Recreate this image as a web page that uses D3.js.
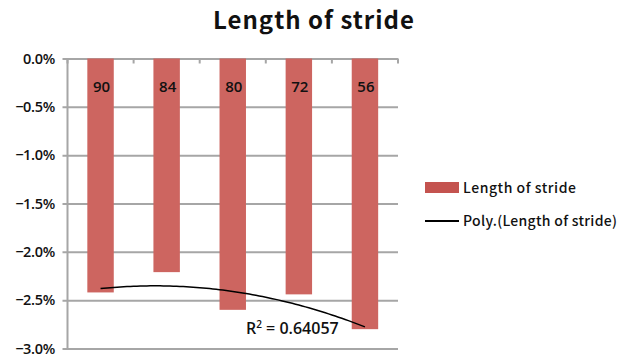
<!DOCTYPE html>
<html>
<head>
<meta charset="utf-8">
<script src="https://cdn.jsdelivr.net/npm/d3@7"></script>
<style>
  html, body { margin: 0; padding: 0; background: #fff; }
  svg { display: block; }
</style>
</head>
<body>
<svg id="chart" width="621" height="364"></svg>
<script>
// Stride length per group (category label) and its change
const categories = ["90", "84", "80", "72", "56"];
const strideChange = [-0.0242, -0.0221, -0.0260, -0.0244, -0.0280];
const yTicks = [0, -0.005, -0.01, -0.015, -0.02, -0.025, -0.03];
const seriesName = "Length of stride";
const trendName = "Poly.(Length of stride)";
const rSquaredLabel = "0.64057";

const svg = d3.select("#chart");
const gothic = "'Noto Sans CJK JP', 'DejaVu Sans', sans-serif";
const sans = "'Open Sans', 'Noto Sans', sans-serif";
const barColor = "#CD6560";
const gridColor = "#A6A6A6";

const plot = { left: 67.5, right: 398, top: 58.5, bottom: 348.5 };

const x = d3.scaleBand()
  .domain(categories)
  .range([plot.left, plot.right])
  .paddingInner(0.6)
  .paddingOuter(0.3);

const y = d3.scaleLinear()
  .domain([-0.03, 0])
  .range([plot.bottom, plot.top]);

// Title
svg.append("text")
  .attr("x", 314)
  .attr("y", 29)
  .attr("text-anchor", "middle")
  .attr("font-family", gothic)
  .attr("font-weight", "bold")
  .attr("font-size", 24)
  .attr("letter-spacing", 1)
  .attr("fill", "#111")
  .text(seriesName);

// Horizontal gridlines with left tick marks
const yAxis = d3.axisLeft(y)
  .tickValues(yTicks)
  .tickSize(plot.right - plot.left + 5)
  .tickFormat(d => d3.format(".1%")(d).replace("-", "\u2212"));

const gy = svg.append("g")
  .attr("transform", `translate(${plot.right},0)`)
  .call(yAxis);
gy.select(".domain").remove();
gy.selectAll(".tick line")
  .attr("stroke", gridColor)
  .attr("stroke-width", 2);
gy.selectAll(".tick text")
  .attr("x", -(plot.right - 55))
  .attr("font-family", sans)
  .attr("font-weight", 600)
  .attr("font-size", 14.5)
  .attr("letter-spacing", -0.3)
  .attr("fill", "#111");

// Vertical axis line
svg.append("line")
  .attr("x1", plot.left).attr("x2", plot.left)
  .attr("y1", plot.top).attr("y2", plot.bottom)
  .attr("stroke", gridColor).attr("stroke-width", 2);

// Category boundary ticks on the zero line
const edges = d3.range(categories.length + 1).map(i => plot.left + i * (plot.right - plot.left) / categories.length);
svg.append("g").selectAll("line")
  .data(edges)
  .join("line")
  .attr("x1", d => d).attr("x2", d => d)
  .attr("y1", plot.top).attr("y2", plot.top + 5)
  .attr("stroke", gridColor).attr("stroke-width", 2);

// Bars
svg.append("g").selectAll("rect")
  .data(strideChange)
  .join("rect")
  .attr("x", (d, i) => x(categories[i]))
  .attr("width", x.bandwidth())
  .attr("y", y(0))
  .attr("height", d => y(d) - y(0))
  .attr("fill", barColor);

// Category labels inside bars
svg.append("g").selectAll("text")
  .data(categories)
  .join("text")
  .attr("x", d => x(d) + x.bandwidth() / 2 + 1)
  .attr("y", 92)
  .attr("text-anchor", "middle")
  .attr("font-family", sans)
  .attr("font-weight", 600)
  .attr("font-size", 15)
  .attr("fill", "#111")
  .text(d => d);

// Second-order polynomial trend fitted by least squares over index 1..n
const n = strideChange.length;
const xs = d3.range(1, n + 1);
function fitQuadratic(xv, yv) {
  const S = k => d3.sum(xv, v => Math.pow(v, k));
  const T = k => d3.sum(xv, (v, i) => Math.pow(v, k) * yv[i]);
  const A = [[S(4), S(3), S(2)], [S(3), S(2), S(1)], [S(2), S(1), xv.length]];
  const B = [T(2), T(1), T(0)];
  const det = m => m[0][0] * (m[1][1] * m[2][2] - m[1][2] * m[2][1])
    - m[0][1] * (m[1][0] * m[2][2] - m[1][2] * m[2][0])
    + m[0][2] * (m[1][0] * m[2][1] - m[1][1] * m[2][0]);
  const D = det(A);
  return [0, 1, 2].map(c => det(A.map((row, r) => row.map((v, j) => j === c ? B[r] : v))) / D);
}
const [qa, qb, qc] = fitQuadratic(xs, strideChange);
const xi = d3.scaleLinear()
  .domain([1, n])
  .range([x(categories[0]) + x.bandwidth() / 2, x(categories[n - 1]) + x.bandwidth() / 2]);
const trendPts = d3.range(1, n + 0.001, 0.05).map(t => [t, qa * t * t + qb * t + qc]);
svg.append("path")
  .datum(trendPts)
  .attr("fill", "none")
  .attr("stroke", "#000")
  .attr("stroke-width", 1.5)
  .attr("d", d3.line().x(d => xi(d[0])).y(d => y(d[1])));

// R-squared label
const r2 = svg.append("text")
  .attr("x", 246)
  .attr("y", 334)
  .attr("font-family", sans)
  .attr("font-weight", 600)
  .attr("font-size", 16)
  .attr("fill", "#111");
r2.append("tspan").text("R");
r2.append("tspan").attr("font-size", 10).attr("dy", -6).text("2");
r2.append("tspan").attr("dy", 6).text(" = " + rSquaredLabel);

// Legend
const legend = svg.append("g")
  .attr("font-family", gothic)
  .attr("font-size", 14)
  .attr("font-weight", 500)
  .attr("fill", "#111");
legend.append("rect")
  .attr("x", 425).attr("y", 182).attr("width", 34).attr("height", 11)
  .attr("fill", "#C4534F");
legend.append("text").attr("x", 463).attr("y", 193)
  .attr("textLength", 113).attr("lengthAdjust", "spacing")
  .text(seriesName);
legend.append("line")
  .attr("x1", 425).attr("x2", 459).attr("y1", 221).attr("y2", 221)
  .attr("stroke", "#000").attr("stroke-width", 2);
legend.append("text").attr("x", 463).attr("y", 226)
  .attr("textLength", 154).attr("lengthAdjust", "spacing")
  .text(trendName);
</script>
</body>
</html>
